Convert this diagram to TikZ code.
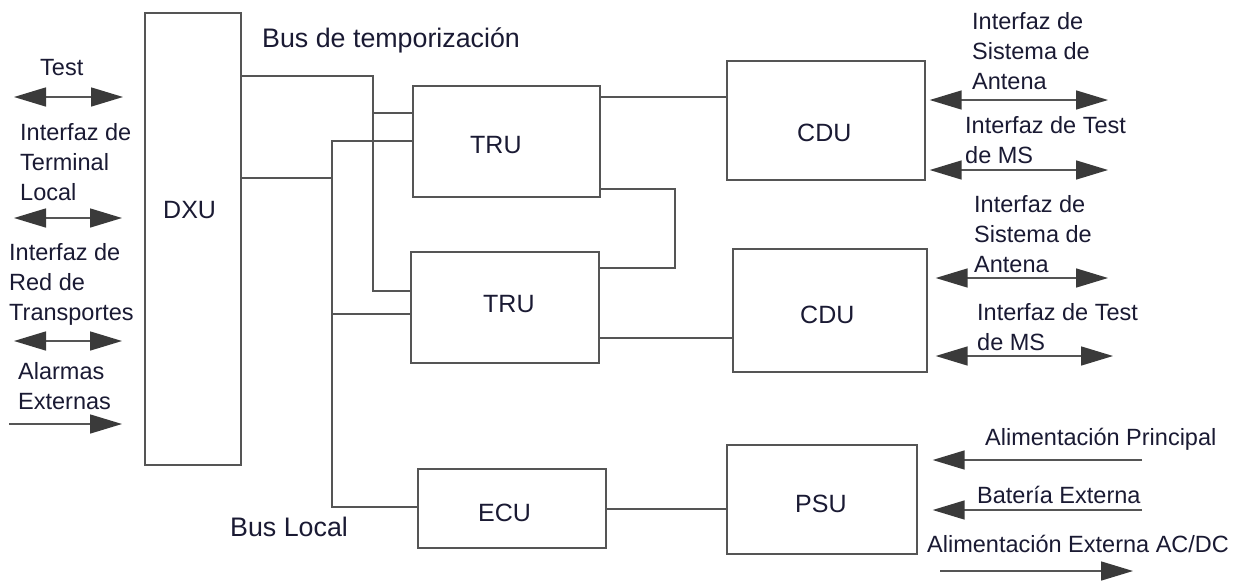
\documentclass[tikz,border=0pt]{standalone}
\usepackage{fontspec}
\setmainfont{Liberation Sans}
\usetikzlibrary{arrows.meta}
\definecolor{ln}{HTML}{555555}
\definecolor{tx}{HTML}{1A1A33}
\definecolor{hd}{HTML}{3A3A3A}
\tikzset{
  blk/.style={draw=ln, line width=1.4pt, inner sep=0pt},
  wire/.style={draw=ln, line width=1.3pt},
  dbl/.style={draw=ln, line width=1.5pt, {Triangle[length=32pt,width=19pt,color=hd]}-{Triangle[length=32pt,width=19pt,color=hd]}},
  sgl/.style={draw=ln, line width=1.5pt, -{Triangle[length=32pt,width=19pt,color=hd]}},
  lbl/.style={text=tx, font=\fontsize{23.5}{30}\selectfont, inner sep=0pt, align=left, anchor=base west},
  buslbl/.style={text=tx, font=\fontsize{26.8}{32}\selectfont, inner sep=0pt, anchor=base west},
  bxl/.style={text=tx, font=\fontsize{25}{30}\selectfont, inner sep=0pt, anchor=base west}
}
\begin{document}
\begin{tikzpicture}[x=1pt,y=-1pt]
\fill[white] (0,0) rectangle (1233,581);
\useasboundingbox (0,0) rectangle (1233,581);

% boxes
\node[blk, minimum width=96pt, minimum height=452pt] (dxu) at (193,239) {};
\node[blk, minimum width=187pt, minimum height=111pt] (tru1) at (506.5,141.5) {};
\node[blk, minimum width=188pt, minimum height=111pt] (tru2) at (505,307.5) {};
\node[blk, minimum width=198pt, minimum height=119pt] (cdu1) at (826,120.5) {};
\node[blk, minimum width=194pt, minimum height=123pt] (cdu2) at (830,310.5) {};
\node[blk, minimum width=188pt, minimum height=79pt] (ecu) at (512,508.5) {};
\node[blk, minimum width=190pt, minimum height=109pt] (psu) at (822,499.5) {};

% box labels
\node[bxl] (ldxu) at (163,218) {DXU};
\node[bxl] (ltru1) at (470,153) {TRU};
\node[bxl] (ltru2) at (483,312) {TRU};
\node[bxl] (lcdu1) at (797,141) {CDU};
\node[bxl] (lcdu2) at (800,323) {CDU};
\node[bxl] (lecu) at (478,521) {ECU};
\node[bxl] (lpsu) at (795,512) {PSU};

% timing bus
\coordinate (tA) at (373,76);
\coordinate (tB) at (373,113);
\coordinate (tC) at (373,291);
\draw[wire] (dxu.east |- tA) -- (tA) -- (tC) -- (tC -| tru2.west);
\draw[wire] (tB) -- (tB -| tru1.west);

% local bus
\coordinate (lA) at (332,178);
\coordinate (lT) at (332,141);
\coordinate (lM) at (332,314);
\coordinate (lE) at (332,507);
\draw[wire] (dxu.east |- lA) -- (lA);
\draw[wire] (lT -| tru1.west) -- (lT) -- (lE) -- (lE -| ecu.west);
\draw[wire] (lM) -- (lM -| tru2.west);

% TRU / CDU / PSU links
\coordinate (c1) at (650,97);
\draw[wire] (tru1.east |- c1) -- (cdu1.west |- c1);
\coordinate (kA) at (675,189);
\coordinate (kB) at (675,268);
\draw[wire] (tru1.east |- kA) -- (kA) -- (kB) -- (kB -| tru2.east);
\coordinate (c2) at (650,338);
\draw[wire] (tru2.east |- c2) -- (cdu2.west |- c2);
\coordinate (c3) at (650,509);
\draw[wire] (ecu.east |- c3) -- (psu.west |- c3);

% left arrows
\coordinate (a1l) at (14,97);  \coordinate (a1r) at (123,97);
\coordinate (a2l) at (14,218); \coordinate (a2r) at (122,218);
\coordinate (a3l) at (14,341); \coordinate (a3r) at (122,341);
\coordinate (a4l) at (9,424);  \coordinate (a4r) at (122,424);
\draw[dbl] (a1l) -- (a1r);
\draw[dbl] (a2l) -- (a2r);
\draw[dbl] (a3l) -- (a3r);
\draw[sgl] (a4l) -- (a4r);

% CDU arrows
\coordinate (r1) at (1108,100);
\coordinate (r2) at (1108,170);
\coordinate (r3) at (1108,278);
\coordinate (r4) at (1113,356);
\draw[dbl, shorten <=4pt] (cdu1.east |- r1) -- (r1);
\draw[dbl, shorten <=4pt] (cdu1.east |- r2) -- (r2);
\draw[dbl, shorten <=8pt] (cdu2.east |- r3) -- (r3);
\draw[dbl, shorten <=8pt] (cdu2.east |- r4) -- (r4);

% PSU arrows
\coordinate (q1) at (1142,460);
\coordinate (q2) at (1142,510);
\draw[sgl, shorten >=15pt] (q1) -- (psu.east |- q1);
\draw[sgl, shorten >=15pt] (q2) -- (psu.east |- q2);
\coordinate (q3s) at (940,571);
\coordinate (q3e) at (1133,571);
\draw[sgl] (q3s) -- (q3e);

% texts (anchor = baseline of last line)
\node[lbl] (tTest) at (40,75) {Test};
\node[lbl] (tTerm) at (20,200) {Interfaz de\\Terminal\\Local};
\node[lbl] (tRed) at (9,320) {Interfaz de\\Red de\\Transportes};
\node[lbl] (tAlarm) at (18,409) {Alarmas\\Externas};
\node[buslbl] (tBusT) at (262,47) {Bus de temporización};
\node[buslbl] (tBusL) at (230,536) {Bus Local};
\node[lbl] (tAnt1) at (972,89) {Interfaz de\\Sistema de\\Antena};
\node[lbl] (tMS1) at (965,163) {Interfaz de Test\\de MS};
\node[lbl] (tAnt2) at (974,272) {Interfaz de\\Sistema de\\Antena};
\node[lbl] (tMS2) at (977,350) {Interfaz de Test\\de MS};
\node[lbl] (tP1) at (985,445) {Alimentación Principal};
\node[lbl] (tP2) at (977,503) {Batería Externa};
\node[lbl] (tP3) at (927,552) {Alimentación Externa AC/DC};
\end{tikzpicture}
\end{document}
